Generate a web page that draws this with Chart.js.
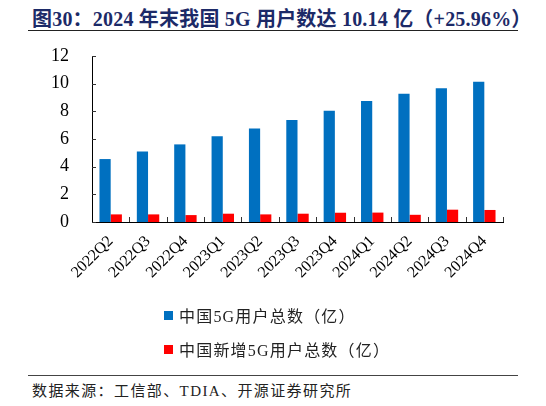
<!DOCTYPE html>
<html><head><meta charset="utf-8">
<script src="https://cdn.jsdelivr.net/npm/chart.js@4"></script>
<style>
html,body{margin:0;padding:0;background:#fff;width:546px;height:406px;overflow:hidden;}
#title{position:absolute;left:32px;top:3px;font-family:"Liberation Serif","Noto Sans CJK SC",serif;font-weight:bold;font-size:20px;color:#1C2A68;white-space:nowrap;letter-spacing:0.2px;}
#rule1{position:absolute;left:28px;top:30px;width:490px;height:0;border-top:1.5px solid #222;}
#rule2{position:absolute;left:28px;top:375px;width:490px;height:0;border-top:1px solid #444;}
#source{position:absolute;left:32px;top:379px;font-family:"Liberation Serif","Noto Sans CJK SC",serif;font-size:15px;color:#222;white-space:nowrap;letter-spacing:1.4px;}
#wrap{position:absolute;left:0;top:0;width:546px;height:300px;}
#legend{position:absolute;left:164px;top:298px;font-family:"Liberation Serif","Noto Sans CJK SC",serif;font-size:16px;color:#222;letter-spacing:1.2px;}
.li{height:34px;display:flex;align-items:center;}
.sw{display:inline-block;width:9px;height:9px;margin-right:6px;}
</style></head>
<body>
<div id="title">图30：2024 年末我国 5G 用户数达 10.14 亿（+25.96%）</div>
<div id="rule1"></div>
<div id="wrap"><canvas id="c" width="546" height="300"></canvas></div>
<div id="legend"></div>
<div id="rule2"></div>
<div id="source">数据来源：工信部、TDIA、开源证券研究所</div>
<script>
const categories = ["2022Q2","2022Q3","2022Q4","2023Q1","2023Q2","2023Q3","2023Q4","2024Q1","2024Q2","2024Q3","2024Q4"];
const totalUsers = [4.55,5.10,5.61,6.20,6.76,7.37,8.05,8.74,9.27,9.66,10.14];
const newUsers = [0.55,0.55,0.50,0.60,0.55,0.60,0.67,0.68,0.52,0.89,0.87];
const seriesLabels = ["中国5G用户总数（亿）","中国新增5G用户总数（亿）"];
const seriesColors = ["#0070C0","#FF0000"];
const yTicks = [0,2,4,6,8,10,12];

const innerTicks = {
  id:'innerTicks',
  afterDraw(chart){
    const ctx=chart.ctx, x=chart.scales.x, y=chart.scales.y;
    ctx.save();
    ctx.strokeStyle='#333';ctx.lineWidth=1;
    yTicks.forEach(v=>{const py=Math.round(y.getPixelForValue(v))+0.5;ctx.beginPath();ctx.moveTo(x.left,py);ctx.lineTo(x.left+4,py);ctx.stroke();});
    const n=categories.length;
    for(let i=1;i<=n;i++){
      const bx = i<n ? (x.getPixelForValue(i-1)+x.getPixelForValue(i))/2 : x.right;
      const p=Math.round(bx)+0.5;
      ctx.beginPath();ctx.moveTo(p,y.bottom);ctx.lineTo(p,y.bottom-5);ctx.stroke();
    }
    ctx.restore();
  }
};

const yFont={family:"'Liberation Serif', 'Times New Roman', serif",size:18};
const xFont={family:"'Liberation Serif', 'Times New Roman', serif",size:16};
new Chart(document.getElementById('c'),{
  type:'bar',
  data:{labels:categories,datasets:[
    {label:seriesLabels[0],data:totalUsers,backgroundColor:seriesColors[0],categoryPercentage:0.6,barPercentage:1.0},
    {label:seriesLabels[1],data:newUsers,backgroundColor:seriesColors[1],categoryPercentage:0.6,barPercentage:1.0}
  ]},
  options:{
    responsive:false,animation:false,devicePixelRatio:1,
    layout:{padding:{top:56,right:43,bottom:6,left:0}},
    plugins:{legend:{display:false},tooltip:{enabled:false}},
    scales:{
      x:{grid:{display:false},border:{display:true,color:'#000',width:1},
        ticks:{color:'#000',font:xFont,maxRotation:45,minRotation:45,padding:2},
        afterFit(s){s.height=72;}},
      y:{min:0,max:12,grid:{display:false},border:{display:true,color:'#000',width:1},
        afterBuildTicks(s){s.ticks=yTicks.map(v=>({value:v}));},
        ticks:{color:'#000',font:yFont,padding:15},
        afterFit(s){s.width=92;}}
    }
  },
  plugins:[innerTicks]
});
const lg=document.getElementById('legend');
seriesLabels.forEach((l,i)=>{const d=document.createElement('div');d.className='li';d.innerHTML='<span class="sw" style="background:'+seriesColors[i]+'"></span>'+l;lg.appendChild(d);});
</script>
</body></html>
